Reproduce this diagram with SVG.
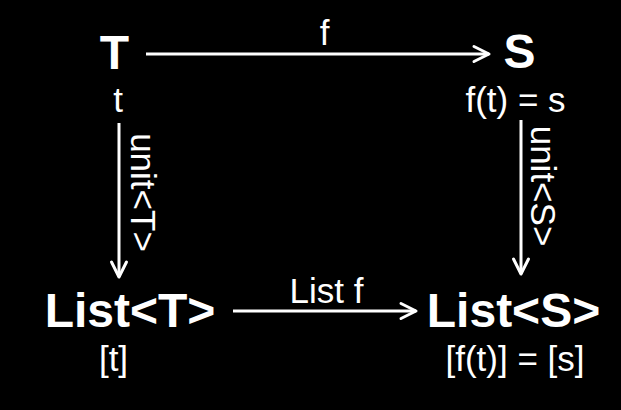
<svg xmlns="http://www.w3.org/2000/svg" width="621" height="410" viewBox="0 0 621 410">
  <defs>
    <marker id="arr" markerUnits="userSpaceOnUse" markerWidth="24" markerHeight="24" viewBox="-20 -12 24 24" refX="0" refY="0" orient="auto" overflow="visible">
      <path d="M-15,-7.5 L0,0 L-15,7.5" fill="none" stroke="#ffffff" stroke-width="3" stroke-linecap="round" stroke-linejoin="round"/>
    </marker>
  </defs>
  <style>
    .big { font-family: "Liberation Sans", Arial, sans-serif; font-weight: bold; font-size: 48px; fill: #ffffff; text-anchor: middle; }
    .sm { font-family: "Liberation Sans", Arial, sans-serif; font-size: 35px; fill: #ffffff; text-anchor: middle; }
    .edge { stroke: #ffffff; stroke-width: 3; fill: none; marker-end: url(#arr); }
  </style>
  <rect x="0" y="0" width="621" height="410" fill="#000000"/>
  <g id="connectors">
    <line class="edge" x1="146" y1="54" x2="489" y2="54"/>
    <text class="sm" x="324.5" y="45">f</text>
    <line class="edge" x1="119" y1="123" x2="119" y2="277"/>
    <text class="sm" transform="translate(131,192.5) rotate(90)">unit&lt;T&gt;</text>
    <line class="edge" x1="521" y1="120" x2="521" y2="274"/>
    <text class="sm" transform="translate(531,186) rotate(90)">unit&lt;S&gt;</text>
    <line class="edge" x1="233" y1="311" x2="416" y2="311"/>
    <text class="sm" x="326.5" y="303">List f</text>
  </g>
  <g id="node-T">
    <text class="big" x="114.5" y="69">T</text>
    <text class="sm" x="118" y="112">t</text>
  </g>
  <g id="node-S">
    <text class="big" x="519.5" y="68">S</text>
    <text class="sm" x="515.5" y="112">f(t) = s</text>
  </g>
  <g id="node-ListT">
    <text class="big" x="130" y="327">List&lt;T&gt;</text>
    <text class="sm" x="113.5" y="371">[t]</text>
  </g>
  <g id="node-ListS">
    <text class="big" x="513.5" y="327">List&lt;S&gt;</text>
    <text class="sm" x="515" y="371">[f(t)] = [s]</text>
  </g>
</svg>
